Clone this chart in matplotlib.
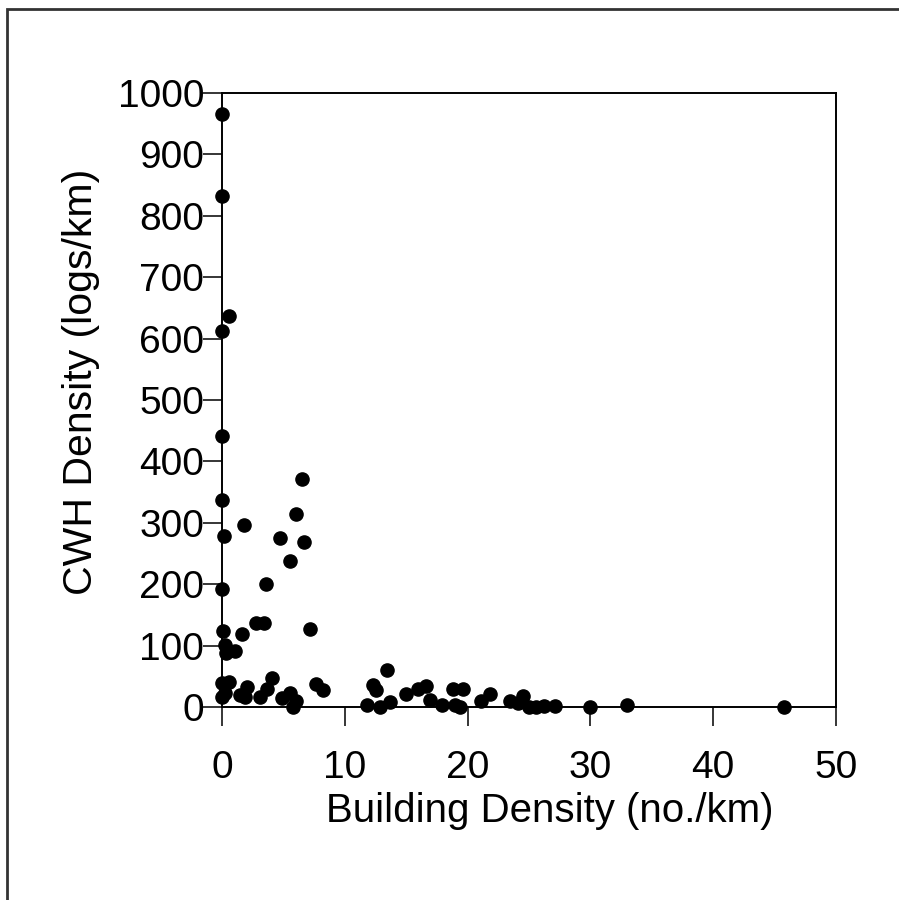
import matplotlib
matplotlib.use("Agg")
import matplotlib.pyplot as plt
from matplotlib.patches import Rectangle

plt.rcParams['font.family'] = ['Liberation Sans', 'DejaVu Sans']

# building density (no./km) vs CWH density (logs/km)
building = [0, 0, 0.57, 0, 0, 6.5, 0, 6.0, 1.8, 0.15, 4.7, 6.7, 5.5, 3.6, 0,
            2.8, 3.4, 0.05, 1.65, 7.2, 0.25, 1.05, 0.3, 0, 0.55, 0, 0.25, 1.5,
            2.0, 1.85, 3.1, 3.65, 4.05, 4.85, 5.5, 6.0, 5.8, 7.65, 8.25, 11.8,
            12.3, 12.5, 12.85, 13.4, 13.7, 15.0, 16.0, 16.6, 16.9, 17.9, 18.8,
            19.65, 19.0, 19.4, 21.1, 21.8, 23.45, 24.1, 24.5, 25.0, 25.6, 26.2,
            27.1, 30.0, 32.95, 45.8]
cwh = [965, 832, 636, 613, 441, 371, 337, 314, 296, 279, 276, 268, 238, 201, 192,
       136, 136, 123, 119, 127, 101, 92, 88, 39, 40, 17, 22, 20,
       33, 17, 17, 29, 47, 14, 22, 9, 0, 37, 27, 4,
       36, 27, 0, 61, 8, 21, 29, 34, 12, 3, 29,
       30, 3, 0, 9, 21, 9, 6, 18, 0, 0, 2,
       2, 0, 4, 0]

fig = plt.figure(figsize=(8.99, 9.0), dpi=100)
ax = fig.add_axes([222 / 899, 193 / 900, 614 / 899, 614 / 900])

ax.scatter(building, cwh, s=90, color='black', zorder=3, clip_on=False)

ax.set_xlim(0, 50)
ax.set_ylim(0, 1000)
ax.set_xticks(range(0, 51, 10))
ax.set_yticks(range(0, 1001, 100))
for sp in ax.spines.values():
    sp.set_linewidth(1.4)
ax.tick_params(axis='both', direction='out', length=13.7, width=1.1, labelsize=28)
ax.tick_params(axis='y', pad=-1)
ax.tick_params(axis='x', pad=17)

ax.set_xlabel('Building Density (no./km)', fontsize=29)
ax.set_ylabel('CWH Density (logs/km)', fontsize=29.5)
ax.xaxis.set_label_coords(0.534, -0.138)
ax.yaxis.set_label_coords(-0.199, 0.53)

# frame around the whole figure (cut off on right and bottom)
fig.add_artist(Rectangle((7 / 899, -0.1), 2, 891 / 900 + 0.1,
                         transform=fig.transFigure, fill=False,
                         edgecolor='#333333', linewidth=2, clip_on=False))

fig.savefig('out.png', dpi=100)
